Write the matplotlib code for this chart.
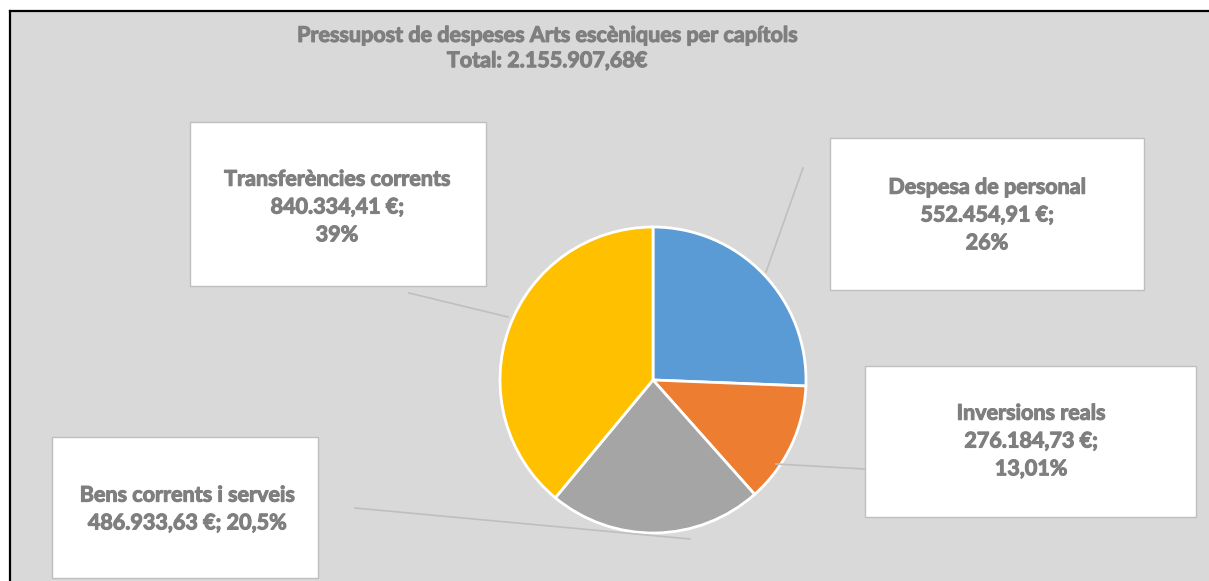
import matplotlib.pyplot as plt
import matplotlib.patheffects as pe
from matplotlib.patches import Rectangle

# dades del gràfic
capitols = ["Despesa de personal", "Inversions reals", "Bens corrents i serveis", "Transferències corrents"]
imports = [552454.91, 276184.73, 486933.63, 840334.41]
etiquetes = ["Despesa de personal\n552.454,91 €;\n26%",
             "Inversions reals\n276.184,73 €;\n13,01%",
             "Bens corrents i serveis\n486.933,63 €; 20,5%",
             "Transferències corrents\n840.334,41 €;\n39%"]
colors = ["#5b9bd5", "#ed7d31", "#a5a5a5", "#ffc000"]
titol = "Pressupost de despeses Arts escèniques per capítols\nTotal: 2.155.907,68€"

W, H = 1209, 581
gris_text = "#7f7f7f"
plt.rcParams['font.family'] = ['Lato', 'DejaVu Sans']

fig = plt.figure(figsize=(W / 100, H / 100), dpi=100)
fig.patch.set_facecolor("white")
ax = fig.add_axes([0, 0, 1, 1])

def Y(y):
    return H - y

# fons gris amb vora negra a dalt i a l'esquerra
ax.add_patch(Rectangle((11, 0), W, Y(12), facecolor="#d9d9d9", edgecolor="none", zorder=0))
ax.plot([10, W], [Y(11), Y(11)], color="black", lw=1.6, zorder=1)
ax.plot([10, 10], [Y(11), 0], color="black", lw=1.6, zorder=1)

ax.pie(imports, colors=colors, startangle=90, counterclock=False,
       center=(653, Y(380)), radius=153,
       wedgeprops=dict(edgecolor="white", linewidth=2), frame=True)
ax.set_xlim(0, W)
ax.set_ylim(0, H)
ax.set_aspect("equal")
ax.axis("off")

negreta = [pe.withStroke(linewidth=0.8, foreground=gris_text)]

# caixes de les etiquetes (x0, y0, x1, y1 en píxels)
caixes = [(830, 138, 1144, 290), (865, 366, 1196, 517), (52, 437, 318, 578), (190, 122, 486, 286)]
centres = [(987, 215), (1031, 441), (187, 509), (337, 207)]
linies = [((803, 168), (766, 272)), ((900, 471), (776, 464)),
          ((355, 508), (690, 539)), ((409, 293), (508, 317))]

for (x0, y0, x1, y1), (cx, cy), (p, q), txt in zip(caixes, centres, linies, etiquetes):
    ax.plot([p[0], q[0]], [Y(p[1]), Y(q[1])], color="#bfbfbf", lw=1.2, zorder=2)
    ax.add_patch(Rectangle((x0, Y(y1)), x1 - x0, y1 - y0, facecolor="white",
                           edgecolor="#bfbfbf", lw=1, zorder=3))
    ax.text(cx, Y(cy), txt, ha="center", va="center", fontsize=15.5, fontweight="bold",
            color=gris_text, linespacing=1.4, zorder=4, path_effects=negreta)

ax.text(547, Y(48), titol, ha="center", va="center", fontsize=15.5, fontweight="bold",
        color=gris_text, linespacing=1.25, path_effects=negreta)

fig.savefig("out.png", dpi=100)
